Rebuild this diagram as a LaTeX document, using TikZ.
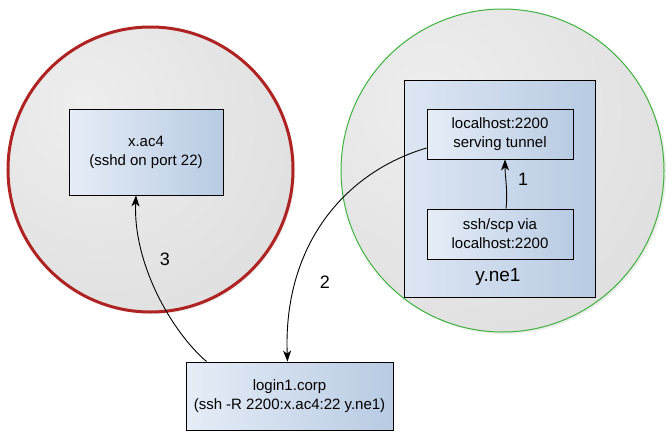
\documentclass[tikz,border=0pt]{standalone}
\usepackage{fontspec}
\setmainfont{Liberation Sans}
\usetikzlibrary{shadows,arrows.meta,calc}
\definecolor{redring}{HTML}{B02323}
\definecolor{greenring}{HTML}{3DB33D}
\definecolor{boxlight}{HTML}{E6EDF7}
\definecolor{boxdark}{HTML}{B8CBE3}
\definecolor{zonein}{HTML}{EEEEEE}
\definecolor{zoneout}{HTML}{D6D6D6}
\pgfdeclareradialshading{zoneshade}{\pgfpoint{-12bp}{12bp}}{color(0bp)=(zonein); color(62bp)=(zoneout); color(100bp)=(zoneout)}
\tikzset{
  zone/.style={circle, inner sep=0pt, shading=zoneshade,
    drop shadow={opacity=0.15, shadow xshift=2pt, shadow yshift=-2pt}},
  hostbox/.style={rectangle, draw=black, line width=0.8pt, left color=boxlight, right color=boxdark,
    inner sep=0pt, align=center, font=\fontsize{15}{19}\selectfont},
  conn/.style={-{Stealth[length=11pt,width=8pt,inset=3pt]}, line width=0.9pt, black},
  steplabel/.style={font=\fontsize{18}{20}\selectfont, inner sep=0pt}
}
\begin{document}
\begin{tikzpicture}[x=1pt,y=-1pt]
\useasboundingbox (0,0) rectangle (672,442);
% zones
\node[zone, draw=redring, line width=3pt, minimum size=285pt] (redc) at (150.5,169.5) {};
\node[zone, draw=greenring, line width=1pt, minimum size=323pt] (greenc) at (502.5,170.5) {};
% boxes
\node[hostbox, minimum width=154pt, minimum height=86pt] (xac4) at (146,152) {x.ac4\\(sshd on port 22)};
\node[rectangle, draw=black, line width=0.8pt, left color=boxlight!80!boxdark, right color=boxdark, minimum width=191pt, minimum height=217pt] (yne1) at (499.5,188.5) {};
\node[font=\fontsize{19}{22}\selectfont, inner sep=0pt] (yne1label) at (498,277) {y.ne1};
\node[hostbox, minimum width=146pt, minimum height=50pt] (lh) at (500,134) {localhost:2200\\serving tunnel};
\node[hostbox, minimum width=146pt, minimum height=50pt] (ssh) at (500,234) {ssh/scp via\\localhost:2200};
\node[hostbox, minimum width=207pt, minimum height=68pt] (login) at (289.5,396) {login1.corp\\(ssh -R 2200:x.ac4:22 y.ne1)};
% connectors
\draw[conn] ($(ssh.north)+(6,0)$) .. controls (508,192) and (505,176) .. ($(lh.south)+(5,0)$);
\draw[conn] ($(lh.west)+(0,14)$) .. controls (345,172) and (283,245) .. ($(login.north)+(-2,0)$);
\draw[conn] ($(login.north west)+(21,0)$) .. controls (170,330) and (133,262) .. ($(xac4.south)+(-10,0)$);
% labels
\node[steplabel] (l1) at (523,179) {1};
\node[steplabel] (l2) at (325,282) {2};
\node[steplabel] (l3) at (165,259) {3};
\end{tikzpicture}
\end{document}
